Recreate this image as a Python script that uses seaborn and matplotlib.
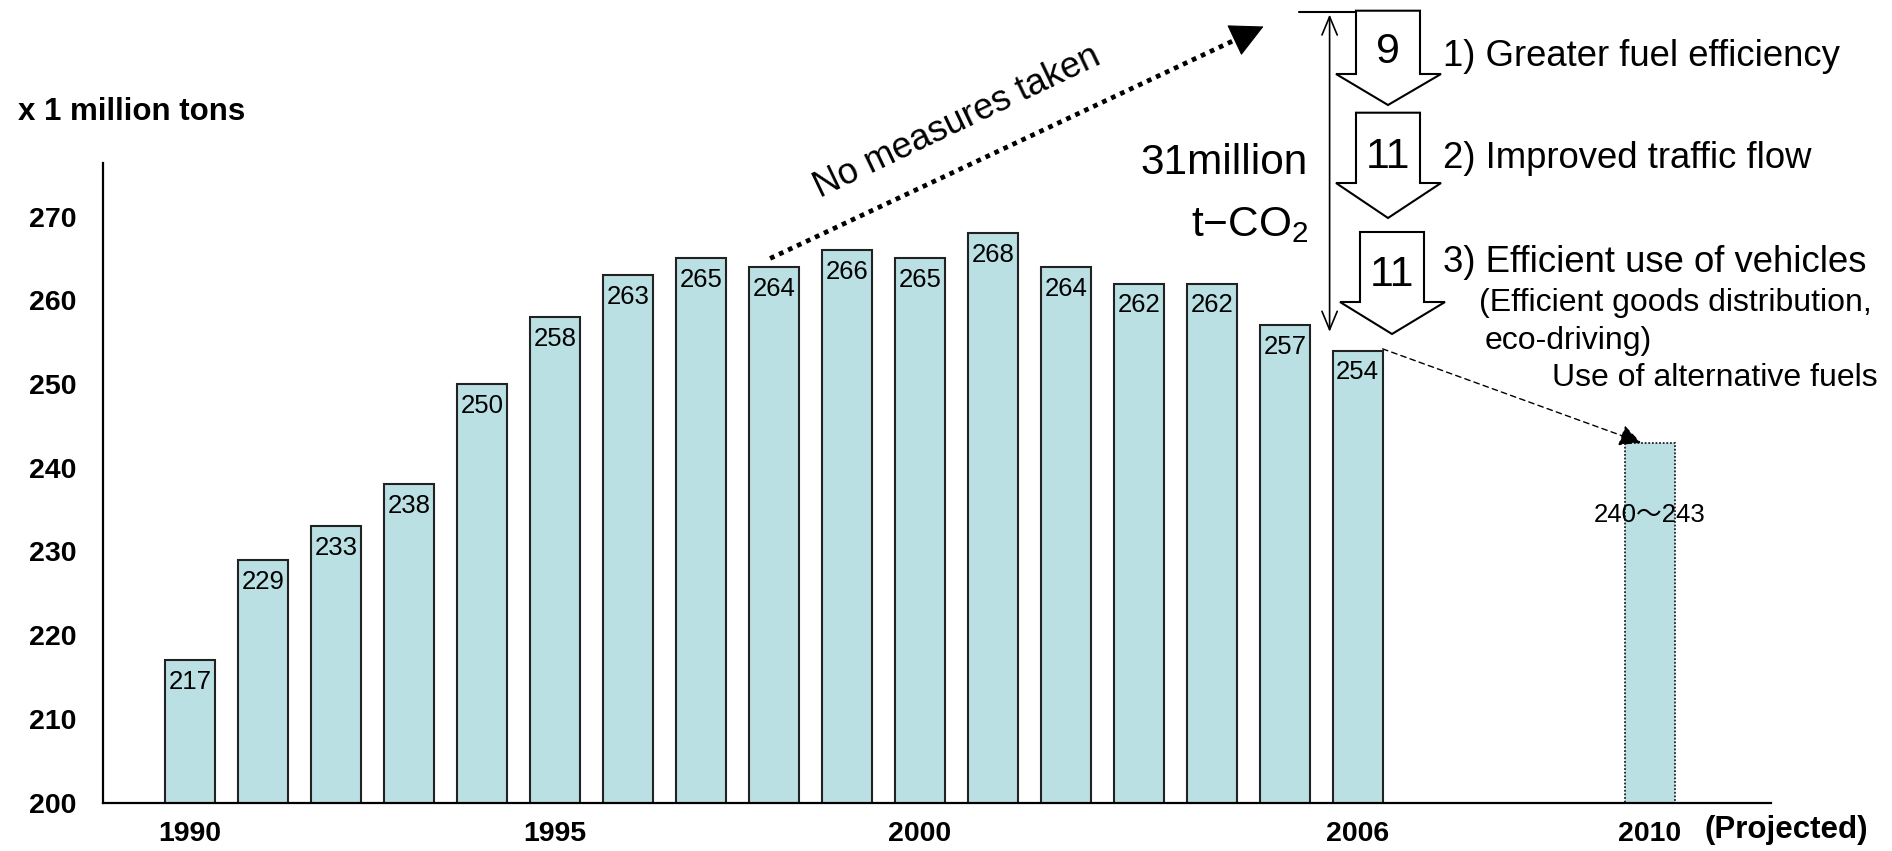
import matplotlib
matplotlib.use("Agg")
import matplotlib.pyplot as plt
from matplotlib import font_manager
from matplotlib.patches import Polygon
from matplotlib.lines import Line2D
import seaborn as sns
import pandas as pd

# data
years = [1990, 1991, 1992, 1993, 1994, 1995, 1996, 1997, 1998, 1999,
         2000, 2001, 2002, 2003, 2004, 2005, 2006, 2010]
values = [217, 229, 233, 238, 250, 258, 263, 265, 264, 266,
          265, 268, 264, 262, 262, 257, 254, 243]
bar_labels = ['217', '229', '233', '238', '250', '258', '263', '265', '264', '266',
              '265', '268', '264', '262', '262', '257', '254', '240～243']
xtick_years = [1990, 1995, 2000, 2006, 2010]
yticks = [200, 210, 220, 230, 240, 250, 260, 270]
reductions = ['9', '11', '11']
measures = ['1) Greater fuel efficiency', '2) Improved traffic flow',
            '3) Efficient use of vehicles']

sns.set_theme(style='white')
plt.rcParams['font.family'] = ['Liberation Sans', 'DejaVu Sans']
plt.rcParams['mathtext.fontset'] = 'custom'
plt.rcParams['mathtext.rm'] = 'Liberation Sans'
plt.rcParams['text.color'] = 'black'
plt.rcParams['xtick.color'] = 'black'
plt.rcParams['ytick.color'] = 'black'

names = {f.name for f in font_manager.fontManager.ttflist}
if 'Liberation Sans Narrow' in names:
    narrow = ['Liberation Sans Narrow', 'Liberation Sans']
    tick_size, big_num = 23, 34
else:
    narrow = ['Liberation Sans', 'DejaVu Sans']
    tick_size, big_num = 20.5, 31

W, H = 1892, 851


def px(x, y):
    # full-size pixel position -> figure fraction
    return (x / W, 1 - y / H)


fig = plt.figure(figsize=(W / 100, H / 100), dpi=100)
ax = fig.add_axes([0.0544, 0.0568, 0.936 - 0.0544, 0.8085 - 0.0568])

df = pd.DataFrame({'year': years, 'value': values})
sns.barplot(data=df, x='year', y='value', native_scale=True, width=0.69,
            color='#BAE0E3', saturation=1, edgecolor='#222222', linewidth=1.5,
            errorbar=None, ax=ax)

# projected bar has a dotted outline
last = ax.patches[-1]
last.set_linestyle((0, (1, 1)))
last.set_linewidth(1.3)

ax.set_xlim(1988.81, 2011.66)
ax.set_ylim(200, 276.4)
ax.set_xlabel('')
ax.set_ylabel('')
sns.despine(ax=ax)
for s in ['left', 'bottom']:
    ax.spines[s].set_linewidth(1.6)
    ax.spines[s].set_color('black')

ax.set_yticks(yticks, labels=[str(v) for v in yticks], fontsize=tick_size,
              fontweight='bold', fontfamily=narrow)
ax.set_xticks(xtick_years, labels=[str(v) for v in xtick_years], fontsize=tick_size,
              fontweight='bold', fontfamily=narrow)
ax.tick_params(axis='y', length=0, pad=19)
ax.tick_params(axis='x', length=0, pad=13)

# value labels
for yr, v, lab in zip(years[:-1], values[:-1], bar_labels[:-1]):
    ax.text(yr, v - 2.6, lab, ha='center', va='center', fontsize=18.5)
ax.text(years[-1], 234.4, bar_labels[-1], ha='center', va='center', fontsize=18.5,
        family=['Liberation Sans', 'Noto Sans CJK JP'])

fig.text(*px(1704, 830), '(Projected)', ha='left', va='center', fontsize=22.5,
         fontweight='bold')
fig.text(*px(18, 112), 'x 1 million tons', ha='left', va='center', fontsize=22.5,
         fontweight='bold')

# "no measures" trend arrow: dotted shaft, solid head
sx, sy = 1997.95, values[8] + 1
ex, ey = 2004.71, 292.7
ax.plot([sx, sx + (ex - sx) * 0.96], [sy, sy + (ey - sy) * 0.96], color='black',
        lw=3.4, linestyle=(0, (1, 1.1)), dash_capstyle='butt', clip_on=False)
ax.annotate('', xy=(ex, ey), xytext=(sx + (ex - sx) * 0.95, sy + (ey - sy) * 0.95),
            annotation_clip=False,
            arrowprops=dict(arrowstyle='-|>,head_length=0.55,head_width=0.28',
                            mutation_scale=40, lw=0.8, color='black',
                            shrinkA=0, shrinkB=0))
fig.text(*px(957, 122), 'No measures taken', rotation=25.5, ha='center',
         va='center', fontsize=26, rotation_mode='anchor')

# dashed arrow from 2006 to the 2010 projection
ax.annotate('', xy=(2009.88, values[-1]), xytext=(2006.34, values[16] + 0.2),
            annotation_clip=False,
            arrowprops=dict(arrowstyle='-|>,head_length=0.6,head_width=0.3',
                            mutation_scale=22, lw=1.0, linestyle=(0, (4, 3)),
                            color='black', shrinkA=0, shrinkB=0))

# total reduction bracket
ax.annotate('', xy=px(1329.6, 14.5), xytext=px(1329.6, 331.8),
            xycoords='figure fraction', textcoords='figure fraction',
            arrowprops=dict(arrowstyle='<->,head_length=0.6,head_width=0.25',
                            mutation_scale=22, lw=1.2, color='black',
                            shrinkA=0, shrinkB=0))
x0, y0 = px(1299, 12)
x1, _ = px(1356, 12)
fig.add_artist(Line2D([x0, x1], [y0, y0], lw=1.5, color='black',
                      transform=fig.transFigure))
fig.text(*px(1308, 163), '31million', ha='right', va='center', fontsize=30.5)
fig.text(*px(1308, 225), 't−CO$_\\mathregular{2}$', ha='right', va='center',
         fontsize=30.5)

# hollow block arrows with the three measures
arrows = [(10.7, 74, 105, 0), (112.7, 183, 218, 0), (232, 302, 334, 4)]
num_y = [52, 157, 275]
text_y = [57, 158, 262]
for (t, b, p, dx), num, ny, lab, ty in zip(arrows, reductions, num_y, measures, text_y):
    pts = [(1356 + dx, t), (1420 + dx, t), (1420 + dx, b), (1441 + dx, b),
           (1388 + dx, p), (1336 + dx, b), (1356 + dx, b)]
    fig.add_artist(Polygon([px(*q) for q in pts], closed=True, facecolor='white',
                           edgecolor='black', lw=1.5, transform=fig.transFigure))
    fig.text(*px(1388 + dx, ny), num, ha='center', va='center', fontsize=big_num,
             family=narrow)
    fig.text(*px(1443, ty), lab, ha='left', va='center', fontsize=26.3)

fig.text(*px(1479, 303), '(Efficient goods distribution,', ha='left', va='center',
         fontsize=23)
fig.text(*px(1485, 341), 'eco-driving)', ha='left', va='center', fontsize=23)
fig.text(*px(1552, 378), 'Use of alternative fuels', ha='left', va='center',
         fontsize=23)

fig.savefig('out.png', dpi=100)
